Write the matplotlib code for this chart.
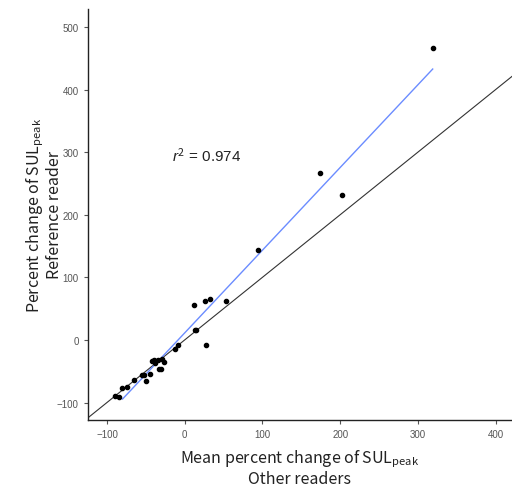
import numpy as np
import matplotlib
matplotlib.use("Agg")
import matplotlib.pyplot as plt

# values (mean of other readers vs reference reader, % change)
other_readers = np.array([
    -89.4, -84.0, -80.8, -74.4, -65.4, -55.6, -53.0, -49.5, -44.4, -41.8,
    -40.0, -38.8, -35.0, -32.8, -30.2, -29.3, -27.3, -13.0, -8.8, 11.3,
    13.0, 14.8, 26.8, 26.0, 32.8, 53.0, 94.2, 174.4, 202.3, 319.0])
reference_reader = np.array([
    -89.0, -91.6, -77.0, -75.0, -64.0, -56.0, -56.5, -65.5, -54.4, -33.6,
    -31.5, -36.8, -31.5, -46.4, -46.4, -30.4, -34.7, -14.4, -8.5, 56.0,
    16.0, 15.5, -8.0, 62.4, 66.0, 62.4, 143.9, 266.5, 231.3, 466.3])
r2_text = "0.974"
fit_start = -80  # the fitted line in the original begins here

xticks = [-100, 0, 100, 200, 300, 400]
yticks = [-100, 0, 100, 200, 300, 400, 500]

plt.rcParams["font.family"] = ["Noto Sans CJK KR", "DejaVu Sans"]
plt.rcParams["mathtext.fontset"] = "custom"
plt.rcParams["mathtext.rm"] = "Noto Sans CJK KR"
plt.rcParams["mathtext.it"] = "Liberation Sans:italic"

fig = plt.figure(figsize=(5.12, 4.89), dpi=100)
ax = fig.add_axes([0.171, 0.139, 0.829, 0.841])

ax.set_xlim(-125, 421)
ax.set_ylim(-128, 529)

# identity line
ax.plot([-200, 600], [-200, 600], color="#333333", lw=0.8, zorder=1)

# least squares fit
slope, intercept = np.polyfit(other_readers, reference_reader, 1)
fx = np.array([fit_start, other_readers.max()])
ax.plot(fx, slope * fx + intercept, color="#6b8cff", lw=1.0, zorder=2)

ax.scatter(other_readers, reference_reader, s=9, color="black", zorder=3)

ax.text(-16, 296, r"$\it{r}^{2}$ = " + r2_text, fontsize=11,
        family="Liberation Sans", va="center", ha="left", color="#222222")

ax.set_xticks(xticks)
ax.set_yticks(yticks)
ax.tick_params(labelsize=7, colors="#555555", length=3, width=0.8)
for lab in ax.get_xticklabels() + ax.get_yticklabels():
    lab.set_family("Liberation Sans")
for s in ["top", "right"]:
    ax.spines[s].set_visible(False)
for s in ["left", "bottom"]:
    ax.spines[s].set_color("#222222")
    ax.spines[s].set_linewidth(1.0)

ax.set_xlabel("Mean percent change of SUL$_{\\mathrm{peak}}$\nOther readers",
              fontsize=11.5, color="#222222", labelpad=6, linespacing=1.1)
ax.set_ylabel("Percent change of SUL$_{\\mathrm{peak}}$\nReference reader",
              fontsize=11.5, color="#222222", linespacing=1.1)
ax.yaxis.set_label_coords(-0.058, 0.5)

fig.savefig("out.png", dpi=100)
